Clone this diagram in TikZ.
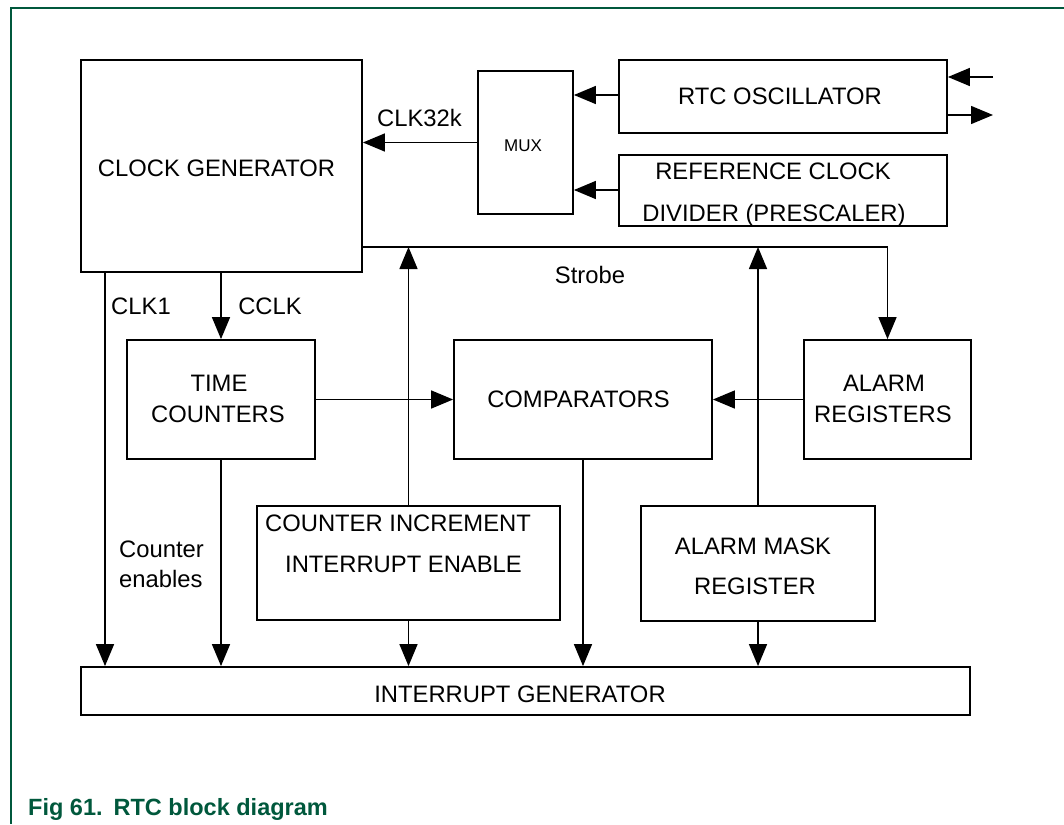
\documentclass[tikz,border=0pt]{standalone}
\usepackage{fontspec}
\setmainfont{Liberation Sans}
\usetikzlibrary{arrows.meta}
\definecolor{nxpgreen}{RGB}{0,88,60}
\begin{document}
\begin{tikzpicture}[x=1pt,y=-1pt,
  box/.style={draw, line width=1.8pt, inner sep=0pt},
  lbl/.style={inner sep=0pt, anchor=base, font=\fontsize{23.8}{28}\selectfont},
  conn/.style={line width=1.5pt, line join=miter},
  arr/.style={conn, -{Triangle[length=22pt,width=18pt]}},
  frame/.style={draw=nxpgreen, line width=1.2pt}]
\useasboundingbox (0,0) rectangle (1064,824);
\draw[frame] (1064,8) -- (11,8) -- (11,824);

% boxes
\node[box, minimum width=281pt, minimum height=212pt] (clk) at (221.5,166) {};
\node[box, minimum width=95pt, minimum height=143pt] (mux) at (525.5,142.5) {};
\node[box, minimum width=328pt, minimum height=73pt] (rtc) at (783,96.5) {};
\node[box, minimum width=328pt, minimum height=71pt] (ref) at (783,190.5) {};
\node[box, minimum width=188pt, minimum height=119pt] (tc) at (221,399.5) {};
\node[box, minimum width=258pt, minimum height=119pt] (comp) at (583,399.5) {};
\node[box, minimum width=167pt, minimum height=119pt] (alarm) at (887.5,399.5) {};
\node[box, minimum width=303pt, minimum height=114pt] (cie) at (408.5,563) {};
\node[box, minimum width=234pt, minimum height=115pt] (am) at (758,563.5) {};
\node[box, minimum width=889pt, minimum height=48pt] (intg) at (525.5,691) {};

% texts
\node[lbl] (tclk) at (216.5,176) {CLOCK GENERATOR};
\node[lbl, font=\fontsize{17}{20}\selectfont] (tmux) at (523,151) {MUX};
\node[lbl] (trtc) at (780,104) {RTC OSCILLATOR};
\node[lbl] (tref1) at (773,179) {REFERENCE CLOCK};
\node[lbl] (tref2) at (774,221) {DIVIDER (PRESCALER)};
\node[lbl] (tclk32) at (419.5,126) {CLK32k};
\node[lbl] (tstrobe) at (590,283) {Strobe};
\node[lbl] (tclk1) at (141,314) {CLK1};
\node[lbl] (tcclk) at (270,314) {CCLK};
\node[lbl] (ttc1) at (219,391) {TIME};
\node[lbl] (ttc2) at (218,422) {COUNTERS};
\node[lbl] (tcomp) at (578.5,407) {COMPARATORS};
\node[lbl] (tal1) at (884,391) {ALARM};
\node[lbl] (tal2) at (883,422) {REGISTERS};
\node[lbl] (tcie1) at (398,531) {COUNTER INCREMENT};
\node[lbl] (tcie2) at (403.5,572) {INTERRUPT ENABLE};
\node[lbl, anchor=base west] (tce1) at (119,557) {Counter};
\node[lbl, anchor=base west] (tce2) at (119,587) {enables};
\node[lbl] (tam1) at (753,554) {ALARM MASK};
\node[lbl] (tam2) at (755,594) {REGISTER};
\node[lbl] (tint) at (520,702) {INTERRUPT GENERATOR};
\node[lbl, anchor=base west, text=nxpgreen, font=\fontsize{23.5}{28}\selectfont\bfseries] (cap) at (28,815) {Fig 61.\hspace{11pt}RTC block diagram};

% coordinates
\coordinate (inA) at (993,77);
\coordinate (outA) at (993,115);
\coordinate (sb) at (887.5,247);
\coordinate (k1) at (105,0);

% connectors
\draw[arr] (inA) -- (inA -| rtc.east);
\draw[arr] (rtc.east |- outA) -- (outA);
\draw[arr] (rtc.west |- 0,95) -- (mux.east |- 0,95);
\draw[arr] (ref.west |- 0,190) -- (mux.east |- 0,190);
\draw[arr] (mux.west) -- (mux.west -| clk.east);
\draw[arr] (clk.east |- sb) -- (sb) -- (alarm.north);
\draw[arr] (cie.north) -- (cie.north |- sb);
\draw[arr] (am.north) -- (am.north |- sb);
\draw[arr] (clk.south -| k1) -- (intg.north -| k1);
\draw[arr] (clk.south -| tc.north) -- (tc.north);
\draw[arr] (tc.east) -- (comp.west);
\draw[arr] (alarm.west) -- (comp.east);
\draw[arr] (tc.south) -- (tc.south |- intg.north);
\draw[arr] (cie.south) -- (cie.south |- intg.north);
\draw[arr] (comp.south) -- (comp.south |- intg.north);
\draw[arr] (am.south) -- (am.south |- intg.north);
\end{tikzpicture}
\end{document}
